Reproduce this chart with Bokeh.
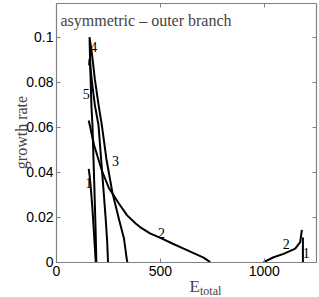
import math
from bokeh.plotting import figure
from bokeh.models import Label, FixedTicker, LinearAxis, Range1d, ColumnDataSource
from bokeh.core.properties import value
from bokeh.embed import file_html
from bokeh.resources import INLINE

# ---- data ----
# curve 1, left part
c1_e = [155, 160, 166, 173, 179, 186, 189]
c1_g = [0.0415, 0.038, 0.032, 0.0237, 0.015, 0.0044, 0.0]
# curve 1, right part
c1r_e = [1186, 1186]
c1r_g = [0.0, 0.011]
# curve 2, left part
c2_e = [155, 160, 181, 221, 252, 301, 340, 381, 404, 450, 500, 560, 628, 708, 740]
c2_g = [0.063, 0.061, 0.052, 0.040, 0.033, 0.026, 0.0208, 0.0172, 0.0155, 0.0128, 0.0108, 0.0082, 0.0054, 0.002, 0.0]
# curve 2, right part
c2r_e = [997, 1045, 1093, 1149, 1173, 1181]
c2r_g = [0.0, 0.0022, 0.0037, 0.006, 0.0089, 0.0144]
# curve with the highest peak (4): two legs
c4_e = [192, 188, 183, 173, 168, 163, 159, 170, 185, 203, 218, 240, 269, 301, 325, 338, 341]
c4_g = [0.0, 0.015, 0.031, 0.061, 0.0696, 0.085, 0.1, 0.093, 0.081, 0.0696, 0.061, 0.046, 0.031, 0.019, 0.0104, 0.0015, 0.0]
# curve 5
c5_e = [157, 159, 172, 185, 202, 221, 237, 244, 248]
c5_g = [0.0875, 0.0904, 0.079, 0.0696, 0.061, 0.0385, 0.019, 0.009, 0.0]

curves = [(c1_e, c1_g), (c1r_e, c1r_g), (c2_e, c2_g), (c2r_e, c2r_g), (c4_e, c4_g), (c5_e, c5_g)]

# curve number labels
lab_e = [179, 143, 284, 155, 505, 1106, 1202]
lab_g = [0.0956, 0.0748, 0.0452, 0.0354, 0.0128, 0.0083, 0.0039]
lab_t = ["4", "5", "3", "1", "2", "2", "1"]

x_min, x_max = 0, 1250
y_min, y_max = 0, 0.115
x_ticks = [0, 500, 1000]
y_ticks = [0, 0.02, 0.04, 0.06, 0.08, 0.1]
y_tick_labels = ["0", "0.02", "0.04", "0.06", "0.08", "0.1"]

# ---- layout: the frame fills the whole canvas, the axes sit at fixed data locations ----
W, H = 319, 297
BOX_L, BOX_R, BOX_B = 56.0, 315.7, 261.7          # pixel box of the axes
PX_X = (BOX_R - BOX_L) / (x_max - x_min)
PX_Y = 2250.0
X0 = x_min - BOX_L / PX_X
X1 = x_max + (W - BOX_R) / PX_X
Y0 = y_min - (H - BOX_B) / PX_Y
Y1 = y_min + BOX_B / PX_Y

GRAY = "#808080"
SERIF = "Liberation Serif"
SANS = "Liberation Sans"

p = figure(width=W, height=H, x_range=Range1d(X0, X1), y_range=Range1d(Y0, Y1),
           output_backend="svg", toolbar_location=None, min_border=0)
p.grid.visible = False
p.outline_line_color = None
p.background_fill_color = "white"
p.border_fill_color = "white"


def style_axis(a, labels=True):
    a.axis_line_color = GRAY
    a.axis_line_width = 1.2
    a.major_tick_line_color = GRAY
    a.major_tick_line_width = 1
    a.major_tick_in = 4
    a.major_tick_out = 0
    a.minor_tick_line_color = None
    if labels:
        a.major_label_text_font = SANS
        a.major_label_text_font_size = "14px"
        a.major_label_text_color = "black"
    else:
        a.major_label_text_font_size = "0px"
        a.major_label_standoff = 0


xa = p.xaxis[0]
ya = p.yaxis[0]
style_axis(xa)
style_axis(ya)
xa.ticker = FixedTicker(ticks=x_ticks)
ya.ticker = FixedTicker(ticks=y_ticks)
ya.major_label_overrides = {t: s for t, s in zip(y_ticks, y_tick_labels)}
xa.major_label_standoff = 4
ya.major_label_standoff = 3
xa.fixed_location = y_min
ya.fixed_location = x_min
xa.bounds = (x_min, x_max)
ya.bounds = (y_min, y_max)

top = LinearAxis(ticker=FixedTicker(ticks=x_ticks), fixed_location=y_max, bounds=(x_min, x_max))
style_axis(top, labels=False)
top.major_label_overrides = {t: "" for t in x_ticks}
p.add_layout(top, "above")
right = LinearAxis(ticker=FixedTicker(ticks=y_ticks), fixed_location=x_max, bounds=(y_min, y_max))
style_axis(right, labels=False)
right.major_label_overrides = {t: "" for t in y_ticks}
p.add_layout(right, "right")

for e, g in curves:
    p.line(e, g, line_color="black", line_width=2)

src = ColumnDataSource(dict(x=lab_e, y=lab_g, t=lab_t))
p.text(x="x", y="y", text="t", source=src, text_font=value(SERIF), text_font_size="14px",
       text_align="center", text_baseline="middle", text_color="black")

# texts (screen units measured from the bottom-left of the canvas)
p.add_layout(Label(x=60, y=H - 20, x_units="screen", y_units="screen", text="asymmetric \u2013 outer branch",
                   text_font=SERIF, text_font_size="16px", text_baseline="alphabetic", text_align="left"))
p.add_layout(Label(x=20.5, y=H - 132, x_units="screen", y_units="screen", text="growth rate", angle=math.pi / 2,
                   text_font=SERIF, text_font_size="16px", text_baseline="alphabetic", text_align="center"))
p.add_layout(Label(x=189, y=H - 286, x_units="screen", y_units="screen", text="E",
                   text_font=SERIF, text_font_size="17px", text_baseline="alphabetic", text_align="left"))
p.add_layout(Label(x=199.5, y=H - 290, x_units="screen", y_units="screen", text="total",
                   text_font=SERIF, text_font_size="12px", text_baseline="alphabetic", text_align="left"))

open("out.html", "w").write(file_html(p, INLINE))
